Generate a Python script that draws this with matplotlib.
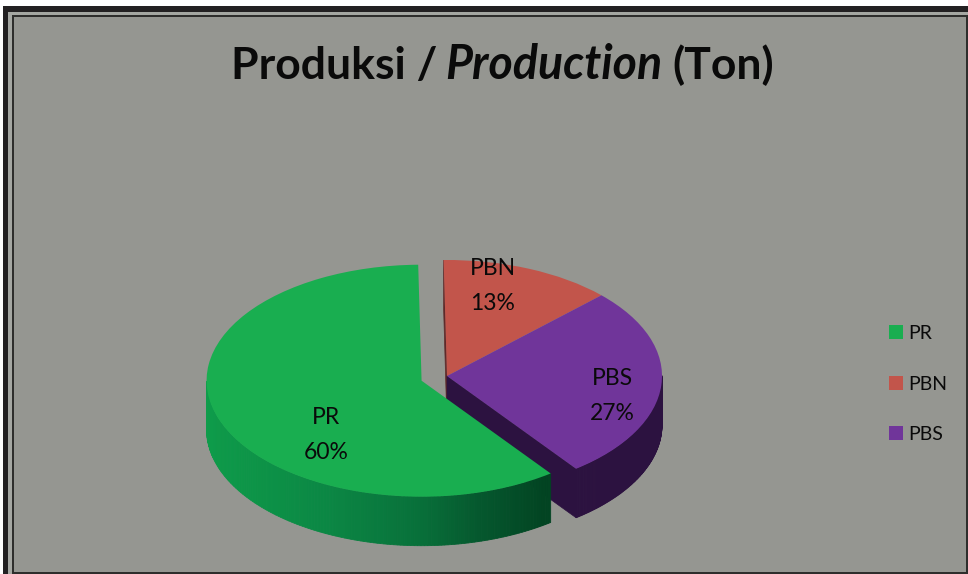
import numpy as np
import matplotlib
matplotlib.use('Agg')
import matplotlib.pyplot as plt
from matplotlib.colors import to_rgb
from matplotlib.patches import Rectangle

categories = ['PR', 'PBN', 'PBS']
shares = [60, 13, 27]
colors = ['#19AE50', '#C2554B', '#70359A']
wall_colors = ['#0B8A45', '#5E2A2A', '#2C1240']

W, H = 968, 574
BG = '#959691'
plt.rcParams['font.family'] = ['Lato', 'DejaVu Sans']

fig = plt.figure(figsize=(W / 100, H / 100), dpi=100, facecolor=BG)


def fx(x):
    return x / W


def fy(y):
    return 1 - y / H


def band(x0, y0, x1, y1, color):
    fig.add_artist(Rectangle((fx(x0), fy(y1)), (x1 - x0) / W, (y1 - y0) / H,
                             transform=fig.transFigure, facecolor=color,
                             edgecolor='none'))


# picture frame, outer to inner
band(0, 0, W, 6, 'white')
band(0, 0, 3, H, 'white')
band(3, 6, W, 12, '#232122')
band(3, 6, 8, H, '#232122')
band(8, 12, W, 15, '#A5A7A2')
band(8, 12, 12, H, '#A5A7A2')
band(12, 15, W, 17, '#2E2E2C')
band(12, 15, 14, H, '#2E2E2C')
band(966, 15, W, H, '#2E2E2C')
band(12, 572, W, H, '#2E2E2C')

# pie axes: one data unit is the radius of the squashed disc
CX, CY, RX, RY, DEPTH = 447, 376, 215, 116, 49
ax = fig.add_axes([0, 0, 1, 1], facecolor='none')
wedges, _ = ax.pie(shares, colors=colors, startangle=306.9, counterclock=False,
                   explode=[0.125, 0, 0], radius=1,
                   wedgeprops={'linewidth': 0, 'zorder': 10})
ax.set_aspect('auto')
ax.set_xlim(-CX / RX, (W - CX) / RX)
ax.set_ylim(-(H - CY) / RY, CY / RY)
ax.axis('off')
d = DEPTH / RY


def outer_wall(wedge, shade, z):
    cx, cy = wedge.center
    th = np.radians(np.linspace(wedge.theta1, wedge.theta2, 240))
    for a, b in zip(th[:-1], th[1:]):
        if np.sin((a + b) / 2) >= 0:
            continue
        xs = cx + np.cos([a, b, b, a])
        ys = cy + np.sin([a, b, b, a]) - np.array([0, 0, d, d])
        c = shade(xs.mean())
        ax.fill(xs, ys, facecolor=c, edgecolor=c, lw=0.6, zorder=z)


def cut_wall(wedge, angle, color, z):
    cx, cy = wedge.center
    t = np.radians(angle)
    ex, ey = cx + np.cos(t), cy + np.sin(t)
    ax.fill([cx, ex, ex, cx], [cy, ey, ey - d, cy - d], facecolor=color,
            edgecolor=color, lw=0.5, zorder=z)


def green_shade(x):
    px = CX + x * RX
    stops_x = [206, 330, 420, 480, 545]
    stops_c = [(14, 156, 74), (11, 135, 68), (8, 112, 58), (5, 88, 46), (2, 68, 34)]
    return tuple(np.interp(px, stops_x, [s[i] for s in stops_c]) / 255 for i in range(3))


pr, pbn, pbs = wedges
cut_wall(pbn, pbn.theta2, wall_colors[1], 2)
cut_wall(pbs, pbs.theta1, wall_colors[2], 3)
outer_wall(pbs, lambda x: to_rgb(wall_colors[2]), 4)
outer_wall(pr, green_shade, 5)

# slice labels
label_pos = [(326, 435), (493, 286), (612, 396)]
for cat, val, (x, y) in zip(categories, shares, label_pos):
    fig.text(fx(x), fy(y), f'{cat}\n{val}%', ha='center', va='center',
             fontsize=16.5, color='#0A0A0A', linespacing=1.8)

# title in three pieces because of the italic word
fig.text(fx(231), fy(79), 'Produksi /', fontsize=32, fontweight='bold', color='#0A0A0A')
fig.text(fx(445), fy(79), 'Production', fontsize=33.5, fontweight='bold', style='italic', color='#0A0A0A')
fig.text(fx(672), fy(79), '(Ton)', fontsize=32, fontweight='bold', color='#0A0A0A')

leg = fig.legend(wedges, categories, loc='center left', bbox_to_anchor=(fx(889), fy(384)),
                 frameon=False, fontsize=14, handlelength=0.7, handleheight=0.7,
                 handletextpad=0.3, labelspacing=1.72, borderpad=0, borderaxespad=0)
for t in leg.get_texts():
    t.set_color('#0A0A0A')

fig.savefig('out.png', dpi=100, facecolor=fig.get_facecolor())
plt.close()
